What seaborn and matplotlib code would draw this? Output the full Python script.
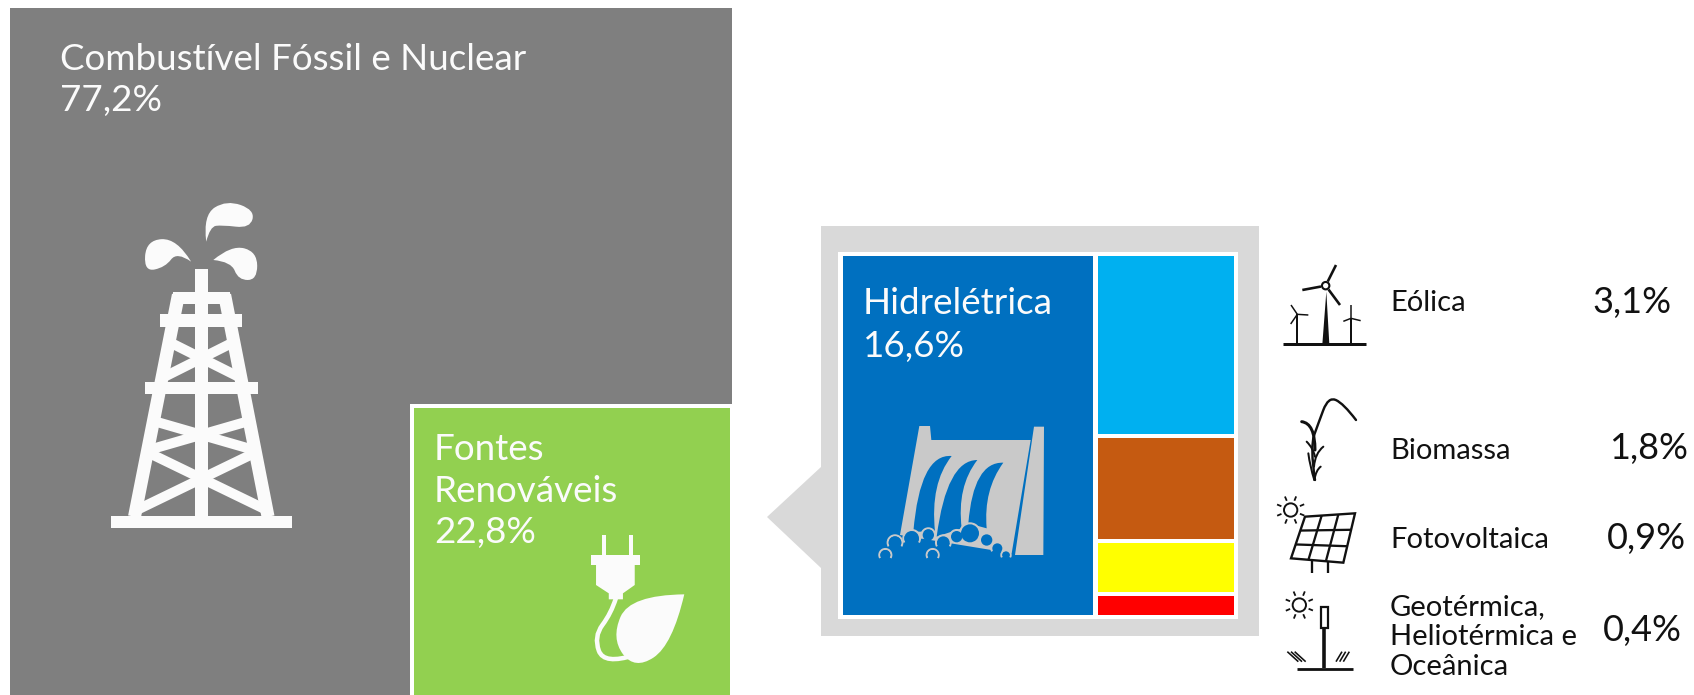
import numpy as np
import seaborn as sns
import matplotlib
matplotlib.use("Agg")
import matplotlib.pyplot as plt
from matplotlib.patches import Polygon, PathPatch, Circle, Rectangle, Arc
from matplotlib.path import Path

# Electricity mix shares, in percent
group_names = ["Combustível Fóssil e Nuclear", "Fontes\nRenováveis"]
group_values = [77.2, 22.8]
hydro_name = "Hidrelétrica"
hydro_value = 16.6
source_names = ["Eólica", "Biomassa", "Fotovoltaica", "Geotérmica,\nHeliotérmica e\nOceânica"]
source_values = [3.1, 1.8, 0.9, 0.4]

GREY, GREEN, BLUE = "#7F7F7F", "#92D050", "#0070C0"
SOURCE_COLORS = ["#00B0F0", "#C55A11", "#FFFF00", "#FF0000"]
PANEL, DAM, WHITE, INK = "#D9D9D9", "#C9C9C9", "#FBFBFB", "#111111"

W, H = 1694, 695
sns.set_theme(style="white")
plt.rcParams["font.family"] = ["Lato", "DejaVu Sans"]

fig = plt.figure(figsize=(W / 100, H / 100), dpi=100, facecolor="white")


def px_axes(x0, y0, x1, y1, zorder):
    ax = fig.add_axes([x0 / W, 1 - y1 / H, (x1 - x0) / W, (y1 - y0) / H], zorder=zorder)
    ax.set_axis_off()
    return ax


def bar(ax, centre, width, height, base, color, **kw):
    sns.barplot(x=[centre], y=[height], width=width, bottom=base, color=color,
                saturation=1, native_scale=True, ax=ax, **kw)


def pct(v):
    return f"{v:.1f}%".replace(".", ",")


# Overlay layers in pixel coordinates for the callout panel, pictograms and text
back = px_axes(0, 0, W, H, 0)
back.set_xlim(0, W)
back.set_ylim(H, 0)
front = px_axes(0, 0, W, H, 5)
front.set_xlim(0, W)
front.set_ylim(H, 0)

# Main tile: width is a 0-1 fraction, height a percentage of the full tile,
# so that width x height equals the share; the lower part runs off the canvas.
main = px_axes(10, 8, 732, H, 1)
green_w = 0.4432
left_w = 1 - green_w
grey_right_h = (group_values[0] - left_w * 100) / green_w
green_h = group_values[1] / green_w
bar(main, left_w / 2, left_w, 100, 0, GREY, linewidth=0)
bar(main, left_w + green_w / 2, green_w, grey_right_h, 0, GREY, linewidth=0)
bar(main, left_w + green_w / 2, green_w, green_h, grey_right_h, GREEN,
    edgecolor="white", linewidth=4 * 0.72)
main.set_xlim(0, 1)
main.set_ylim(grey_right_h * (H - 8) / (406 - 8), 0)
main.set_axis_off()

# Callout panel with its pointer and white frame
back.add_patch(Polygon([(767, 517), (821, 467), (821, 226), (1259, 226), (1259, 636),
                        (821, 636), (821, 568)], closed=True, fc=PANEL, ec="none"))
back.add_patch(Rectangle((838, 252), 400, 367, fc="white", ec="none"))

# Hydro tile
hydro_ax = px_axes(843, 256, 1093, 615, 1)
bar(hydro_ax, 0, 1, hydro_value, 0, BLUE, linewidth=0)
hydro_ax.set_xlim(-0.5, 0.5)
hydro_ax.set_ylim(hydro_value, 0)
hydro_ax.set_axis_off()

# Other renewables, stacked on a shared scale
stack_ax = px_axes(1096, 254, 1236, 617, 1)
bases = np.concatenate([[0], np.cumsum(source_values)[:-1]])
for value, base, color in zip(source_values, bases, SOURCE_COLORS):
    bar(stack_ax, 0, 1, value, base, color, edgecolor="white", linewidth=4 * 0.72)
stack_ax.set_xlim(-0.5, 0.5)
stack_ax.set_ylim(sum(source_values), 0)
stack_ax.set_axis_off()


# Pictogram helpers
def line(points, lw_px, color, cap="butt", **kw):
    xs, ys = zip(*points)
    front.plot(xs, ys, color=color, lw=lw_px * 0.72, solid_capstyle=cap,
               solid_joinstyle="round", **kw)


def open_curve(points, color, lw_px):
    """Open quadratic spline guided by a control polygon."""
    pts = np.array(points, float)
    verts, codes = [pts[0]], [Path.MOVETO]
    for i in range(1, len(pts) - 1):
        end = pts[i + 1] if i == len(pts) - 2 else (pts[i] + pts[i + 1]) / 2
        verts += [pts[i], end]
        codes += [Path.CURVE3, Path.CURVE3]
    front.add_patch(PathPatch(Path(verts, codes), fc="none", ec=color,
                              lw=lw_px * 0.72, capstyle="round"))


def pointed_blob(points, color):
    """Filled spline shape with a sharp corner at its first point."""
    pts = np.array(points, float)
    verts, codes = [pts[0]], [Path.MOVETO]
    for i in range(1, len(pts)):
        end = pts[0] if i == len(pts) - 1 else (pts[i] + pts[i + 1]) / 2
        verts += [pts[i], end]
        codes += [Path.CURVE3, Path.CURVE3]
    front.add_patch(PathPatch(Path(verts, codes), fc=color, ec="none"))


# Derrick, authored in a 2.119 x 3 grid offset by 180 px vertically
def tz(x, y):
    return (x / 2.119, 180 + y / 3)


def tower_rect(x0, y0, x1, y1):
    a, b = tz(x0, y0), tz(x1, y1)
    front.add_patch(Rectangle(a, b[0] - a[0], b[1] - a[1], fc=WHITE, ec="none"))


tower_rect(235, 1008, 618, 1045)
tower_rect(413, 268, 440, 1008)
tower_rect(340, 403, 513, 440)
tower_rect(307, 605, 547, 642)
tower_rect(367, 335, 487, 372)
line([tz(378, 345), tz(285, 1010)], 13, WHITE)
line([tz(476, 345), tz(568, 1010)], 13, WHITE)
for a, b in [((357, 485), (512, 595)), ((497, 485), (342, 595)),
             ((323, 722), (543, 812)), ((530, 722), (310, 812)),
             ((310, 815), (565, 990)), ((545, 815), (290, 990))]:
    line([tz(*a), tz(*b)], 10, WHITE)
for drop in ([(405, 245), (375, 175), (310, 180), (305, 275), (350, 262), (375, 215)],
             [(437, 185), (430, 105), (480, 60), (540, 90), (530, 145), (470, 135), (445, 140)],
             [(452, 240), (490, 195), (545, 215), (545, 300), (505, 300), (490, 245)]):
    pointed_blob([tz(*p) for p in drop], WHITE)

# Plug with leaf
tower_rect(1275, 1065, 1284, 1130)
tower_rect(1332, 1065, 1341, 1130)
tower_rect(1253, 1125, 1356, 1155)
front.add_patch(Polygon([tz(1263, 1150), tz(1345, 1150), tz(1345, 1215), tz(1320, 1240),
                         tz(1320, 1258), tz(1290, 1258), tz(1290, 1240), tz(1263, 1215)],
                        fc=WHITE, ec="none"))
open_curve([tz(1305, 1255), tz(1295, 1300), tz(1258, 1370), tz(1280, 1455), tz(1345, 1425)],
           WHITE, 4.5)
pointed_blob([tz(*p) for p in [(1450, 1243), (1335, 1245), (1295, 1375), (1345, 1470), (1425, 1395)]], WHITE)


# Dam, authored in a 3x grid offset from the panel corner
def dz(x, y):
    return (760 + x / 3, 220 + y / 3)


front.add_patch(Polygon([dz(*p) for p in [(478, 618), (510, 618), (514, 660), (812, 660),
                                          (755, 1000), (420, 945)]], fc=DAM, ec="none"))
front.add_patch(Polygon([dz(*p) for p in [(822, 620), (852, 620), (850, 1005), (765, 1005)]],
                        fc=DAM, ec="none"))
for top, ctrl_l, bot_l, bot_r, ctrl_r in [
        ((575, 708), (480, 700), (460, 935), (525, 935), (510, 790)),
        ((652, 720), (560, 720), (530, 950), (605, 925), (590, 800)),
        ((730, 728), (640, 725), (625, 910), (680, 925), (670, 810))]:
    verts = [dz(*top), dz(*ctrl_l), dz(*bot_l), dz(*bot_r), dz(*ctrl_r), dz(*top), dz(*top)]
    codes = [Path.MOVETO, Path.CURVE3, Path.CURVE3, Path.LINETO, Path.CURVE3, Path.CURVE3, Path.CLOSEPOLY]
    front.add_patch(PathPatch(Path(verts, codes), fc=BLUE, ec="none"))
foam = [(376, 1005, 18), (405, 968, 22), (455, 955, 25), (505, 945, 20),
        (518, 1005, 18), (550, 968, 22), (590, 950, 20), (630, 940, 30),
        (680, 960, 20), (712, 985, 18), (738, 1005, 14)]
for cx, cy, r in foam:
    front.add_patch(Arc(dz(cx, cy), 2 * r / 3, 2 * r / 3, theta1=150, theta2=390, ec=DAM, lw=1.5))
for cx, cy, r in foam:
    front.add_patch(Circle(dz(cx, cy), r / 3 - 1, fc=BLUE, ec="none"))


# Black pictograms, authored in a 3x grid
def kz(x, y):
    return (1260 + x / 3, 250 + y / 3)


def sun(cx, cy, r=20):
    c = kz(cx, cy)
    front.add_patch(Circle(c, r / 3, fc="none", ec=INK, lw=1.4))
    for a in np.deg2rad(np.arange(0, 360, 45) + 22):
        line([(c[0] + (r + 10) / 3 * np.cos(a), c[1] + (r + 10) / 3 * np.sin(a)),
              (c[0] + (r + 24) / 3 * np.cos(a), c[1] + (r + 24) / 3 * np.sin(a))], 1.8, INK)


# Wind turbines
line([kz(68, 283), kz(317, 283)], 3, INK)
front.add_patch(Polygon([kz(187, 283), kz(208, 283), kz(199, 125)], fc=INK, ec="none"))
front.add_patch(Circle(kz(197, 107), 3.7, fc="white", ec=INK, lw=1.5))
for tip in [(228, 45), (127, 120), (240, 165)]:
    start = (197 + (tip[0] - 197) * 0.2, 107 + (tip[1] - 107) * 0.2)
    line([kz(*start), kz(*tip)], 2.6, INK)
for hub, foot, tips in [((112, 193), 280, [(93, 165), (145, 195), (92, 222)]),
                        ((273, 205), 280, [(273, 165), (302, 212), (250, 214)])]:
    line([kz(*hub), kz(hub[0], foot)], 2, INK)
    for tip in tips:
        line([kz(*hub), kz(*tip)], 1.5, INK)

# Biomass stalk
open_curve([kz(165, 690), kz(150, 590), kz(175, 520), kz(205, 440), kz(250, 460), kz(288, 510)],
           INK, 2.4)
open_curve([kz(125, 515), kz(165, 520), kz(165, 600)], INK, 3)
open_curve([kz(190, 590), kz(165, 610), kz(162, 650)], INK, 2)
open_curve([kz(140, 575), kz(160, 595), kz(165, 620)], INK, 2)
open_curve([kz(145, 610), kz(150, 650), kz(163, 690)], INK, 2)
open_curve([kz(182, 650), kz(168, 660), kz(163, 690)], INK, 2)

# Solar panel
sun(92, 780)
c00, c10, c11, c01 = np.array((135, 800.)), np.array((285, 790.)), np.array((250, 938.)), np.array((93, 925.))
front.add_patch(Polygon([kz(*c00), kz(*c10), kz(*c11), kz(*c01)], fc="none", ec=INK, lw=1.7))
for t in (1 / 3, 2 / 3):
    line([kz(*(c00 + t * (c10 - c00))), kz(*(c01 + t * (c11 - c01)))], 2.3, INK)
    line([kz(*(c00 + t * (c01 - c00))), kz(*(c10 + t * (c11 - c10)))], 2.3, INK)
line([kz(155, 932), kz(155, 970)], 2.3, INK)
line([kz(203, 935), kz(203, 970)], 2.3, INK)

# Concentrating solar tower
sun(118, 1065)
line([kz(193, 1130), kz(193, 1255)], 3.6, INK)
front.add_patch(Rectangle(kz(184, 1072), 7, 21, fc="white", ec=INK, lw=1.6))
line([kz(110, 1257), kz(280, 1257)], 2.8, INK)
for i in range(3):
    line([kz(82 + 11 * i, 1205), kz(115 + 11 * i, 1235)], 1.6, INK)
    line([kz(246 + 11 * i, 1205), kz(228 + 11 * i, 1235)], 1.6, INK)

# Tile labels
TITLE_SIZE = 26.5
front.text(60, 59, group_names[0], color=WHITE, fontsize=TITLE_SIZE, va="center")
front.text(60, 100, pct(group_values[0]), color=WHITE, fontsize=TITLE_SIZE, va="center")
front.text(434, 449, "Fontes", color=WHITE, fontsize=TITLE_SIZE, va="center")
front.text(434, 492, "Renováveis", color=WHITE, fontsize=TITLE_SIZE, va="center")
front.text(434, 533, pct(group_values[1]), color=WHITE, fontsize=TITLE_SIZE, va="center")
front.text(863, 303, hydro_name, color=WHITE, fontsize=TITLE_SIZE, va="center")
front.text(863, 346, pct(hydro_value), color=WHITE, fontsize=TITLE_SIZE, va="center")

# Source list on the right
name_rows = [303, 451, 540, 637]
value_pos = [(1592, 302), (1609, 448), (1607, 539), (1603, 630)]
for name, value, row, (vx, vy) in zip(source_names, source_values, name_rows, value_pos):
    front.text(1390, row, name, color=INK, fontsize=21, va="center", linespacing=1.2)
    front.text(vx, vy, pct(value), color=INK, fontsize=26, va="center")

fig.savefig("out.png", dpi=100, facecolor="white")
